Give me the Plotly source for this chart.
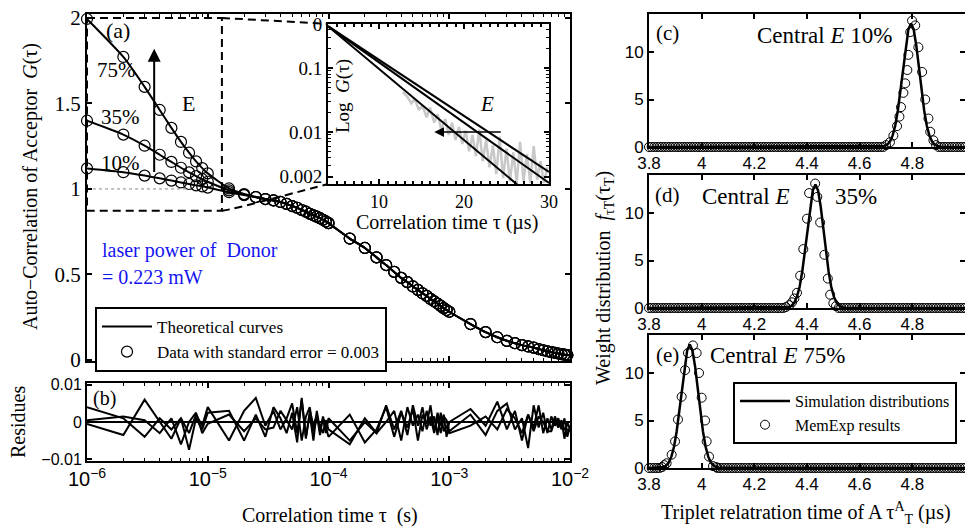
import numpy as np
import plotly.graph_objects as go

W, H = 965, 531
SERIF = "Liberation Serif"
SANS = "Liberation Sans"

# ---------------- panel (a): auto-correlation data ----------------
tau_us = [1, 2, 3, 4, 5, 6, 7, 8, 9,
          10, 15, 20, 25, 30, 35, 40, 45, 50, 55, 60, 65, 70, 75, 80, 85, 90, 95,
          100, 150, 200, 250, 300, 350, 400, 450, 500, 550, 600, 650, 700, 750, 800, 850, 900, 950,
          1000, 1500, 2000, 2500, 3000, 3500, 4000, 4500, 5000, 5500, 6000, 6500, 7000, 7500, 8000, 8500, 9000, 9500,
          10000]
G10_early = [1.120, 1.098, 1.078, 1.062, 1.049, 1.038, 1.029, 1.021, 1.015, 1.008, 0.981, 0.964, 0.952]
G35_early = [1.399, 1.318, 1.253, 1.200, 1.158, 1.124, 1.097, 1.075, 1.057, 1.042, 0.992, 0.967, 0.953]
G75_early = [1.994, 1.772, 1.597, 1.462, 1.357, 1.275, 1.212, 1.161, 1.122, 1.091, 1.003, 0.970, 0.953]
G_tail = [0.941, 0.933, 0.924, 0.913, 0.900, 0.890, 0.877, 0.867, 0.855, 0.846, 0.838, 0.829, 0.820, 0.810,
          0.800, 0.710, 0.655, 0.600, 0.555, 0.515, 0.480, 0.455, 0.430, 0.410, 0.390, 0.375, 0.357, 0.343, 0.330, 0.316, 0.303, 0.292,
          0.282, 0.210, 0.163, 0.133, 0.112, 0.098, 0.087, 0.079, 0.072, 0.064, 0.057, 0.051, 0.046, 0.042, 0.038, 0.034, 0.031, 0.029,
          0.027]

# ---------------- panel (b): residues ----------------
res1 = [0.0040, 0.0010, -0.0040, 0.0010, -0.0020, 0.0010, -0.0030, 0.0020, -0.0010,
        0.0040, -0.0050, 0.0030, 0.0065, -0.0010, 0.0030, -0.0020, 0.0010, 0.0050, -0.0030, 0.0060, -0.0040, 0.0020, -0.0050, 0.0030, -0.0020, 0.0010, -0.0030,
        0.0010, -0.0050, 0.0000, -0.0030, 0.0045, -0.0020, 0.0030, -0.0035, 0.0045, -0.0010, 0.0040, -0.0020, 0.0015, -0.0030, 0.0025, -0.0010, 0.0020, -0.0040,
        0.0000, 0.0035, -0.0010, 0.0055, -0.0020, 0.0030, -0.0050, 0.0020, -0.0015, 0.0045, -0.0030, 0.0010, -0.0020, 0.0015, -0.0010, 0.0005, -0.0045, 0.0000,
        -0.0020]
res2 = [-0.0005, -0.0035, 0.0060, 0.0000, -0.0045, 0.0010, -0.0075, 0.0010, -0.0020,
        0.0025, 0.0030, -0.0050, 0.0020, -0.0040, 0.0040, 0.0010, -0.0030, 0.0025, -0.0055, 0.0065, -0.0045, 0.0030, -0.0010, 0.0020, -0.0035, 0.0015, -0.0010,
        -0.0040, 0.0020, -0.0055, -0.0020, 0.0040, -0.0040, 0.0025, -0.0015, 0.0035, -0.0050, 0.0020, -0.0005, 0.0045, -0.0025, 0.0010, -0.0030, 0.0015, 0.0005,
        -0.0025, 0.0020, -0.0035, 0.0030, 0.0050, -0.0020, 0.0010, -0.0070, 0.0045, -0.0015, 0.0025, -0.0030, 0.0015, -0.0010, 0.0010, -0.0020, 0.0010, -0.0040,
        -0.0010]
res3 = [0.0005, 0.0015, 0.0005, -0.0030, 0.0010, -0.0060, 0.0000, 0.0025, -0.0030,
        -0.0005, 0.0020, -0.0025, 0.0010, -0.0020, -0.0015, 0.0030, 0.0005, -0.0020, 0.0040, -0.0050, 0.0015, 0.0040, -0.0025, 0.0010, -0.0010, -0.0030, 0.0005,
        -0.0020, -0.0060, 0.0010, -0.0030, 0.0000, 0.0030, -0.0050, 0.0040, -0.0010, 0.0020, -0.0025, 0.0030, -0.0010, 0.0015, -0.0035, 0.0025, -0.0025, -0.0010,
        -0.0030, -0.0010, 0.0015, -0.0020, 0.0035, 0.0010, -0.0030, 0.0020, -0.0025, 0.0015, 0.0000, -0.0025, -0.0025, 0.0005, -0.0015, 0.0000, -0.0020, -0.0020,
        -0.0025]

# ---------------- inset: log G(tau) ----------------
inset_t = [4, 30]
inset_lines = [[0.45, 0.00058], [0.45, 0.0016], [0.45, 0.00237]]
noise_t = [12.8, 13.3, 13.8, 14.2, 14.7, 15.1, 15.6, 16.0, 16.5, 16.9, 17.3, 17.8, 18.2, 18.6, 19.0, 19.4,
           19.8, 20.2, 20.6, 21.0, 21.4, 21.8, 22.2, 22.6, 23.0, 23.4, 23.8, 24.2, 24.6, 25.0, 25.4, 25.8,
           26.2, 26.6, 27.0, 27.4, 27.8, 28.2, 28.6, 29.0, 29.4, 29.8]
noise_G = [0.042, 0.036, 0.028, 0.033, 0.022, 0.026, 0.017, 0.024, 0.014, 0.019, 0.011, 0.016, 0.009, 0.014, 0.0075, 0.012,
           0.0065, 0.0105, 0.005, 0.009, 0.0042, 0.011, 0.0035, 0.0075, 0.0028, 0.0062, 0.0022, 0.0085, 0.0019, 0.0055, 0.0017, 0.0048,
           0.0016, 0.007, 0.0017, 0.0045, 0.0016, 0.006, 0.0018, 0.0035, 0.0016, 0.0028]

# ---------------- panels (c)-(e): distributions ----------------
sim_offsets = [-0.11, -0.10, -0.09, -0.08, -0.07, -0.06, -0.05, -0.04, -0.03, -0.02, -0.01, 0.0,
               0.01, 0.02, 0.03, 0.04, 0.05, 0.06, 0.07, 0.08, 0.09, 0.10, 0.11]
sim_profile = [0.035, 0.10, 0.25, 0.57, 1.19, 2.24, 3.84, 5.95, 8.38, 10.69, 12.38, 13.0,
               12.38, 10.69, 8.38, 5.95, 3.84, 2.24, 1.19, 0.57, 0.25, 0.10, 0.035]
sim_centers = [4.795, 4.432, 3.955]
pk_x = [[4.700, 4.715, 4.728, 4.742, 4.751, 4.757, 4.766, 4.773, 4.781, 4.785, 4.792, 4.799, 4.811, 4.823, 4.837, 4.849, 4.861, 4.868, 4.880, 4.890],
        [4.320, 4.333, 4.343, 4.352, 4.362, 4.374, 4.386, 4.400, 4.408, 4.431, 4.439, 4.450, 4.466, 4.479, 4.488, 4.500, 4.510],
        [3.850, 3.858, 3.867, 3.886, 3.899, 3.910, 3.924, 3.937, 3.948, 3.967, 3.981, 3.990, 4.000, 4.013, 4.019, 4.028, 4.043, 4.055]]
pk_y = [[0.2, 0.5, 1.2, 2.2, 3.2, 4.2, 5.7, 6.7, 8.1, 9.7, 12.1, 13.3, 12.8, 10.5, 7.9, 5.0, 3.0, 1.6, 0.7, 0.2],
        [0.1, 0.3, 0.6, 1.0, 1.6, 3.4, 6.2, 9.4, 12.1, 13.1, 11.7, 9.0, 5.6, 3.1, 1.4, 0.5, 0.2],
        [0.1, 0.3, 0.5, 1.4, 2.8, 5.1, 7.5, 10.3, 12.1, 12.9, 12.1, 10.0, 7.4, 5.0, 2.8, 1.2, 0.2, 0.1]]
tauT_grid = np.round(np.arange(3.80, 5.0001, 0.01), 2)

assert len(tau_us) == 64 and len(res1) == 64 and len(res2) == 64 and len(res3) == 64
assert len(G10_early) + len(G_tail) == 64

tau_s = [t * 1e-6 for t in tau_us]
curves = [G10_early + G_tail, G35_early + G_tail, G75_early + G_tail]

fig = go.Figure()

# main curves
for i, g in enumerate(curves):
    fig.add_trace(go.Scatter(x=tau_s, y=g, mode="lines", line=dict(color="black", width=2, shape="spline", smoothing=0.6),
                             xaxis="x", yaxis="y", name="Theoretical curves", showlegend=(i == 0), legend="legend", legendrank=1))
for i, g in enumerate(curves):
    fig.add_trace(go.Scatter(x=tau_s, y=g, mode="markers", cliponaxis=False,
                             marker=dict(symbol="circle-open", size=11, color="black", line=dict(width=1.2, color="black")),
                             xaxis="x", yaxis="y", name="Data with standard error = 0.003", showlegend=(i == 0), legend="legend", legendrank=2))

# dotted reference level and dashed zoom box with connectors
fig.add_trace(go.Scatter(x=[1e-6, 7e-6], y=[1, 1], mode="lines", line=dict(color="#888", width=1, dash="dot"),
                         xaxis="x", yaxis="y", showlegend=False, hoverinfo="skip"))
box_x = [1e-6, 1.31e-5, 1.31e-5, 1e-6, 1e-6]
box_y = [2.0, 2.0, 0.872, 0.872, 2.0]
fig.add_trace(go.Scatter(x=box_x, y=box_y, mode="lines", line=dict(color="black", width=2, dash="8px,5px"),
                         xaxis="x", yaxis="y", showlegend=False, hoverinfo="skip"))
fig.add_trace(go.Scatter(x=[1.31e-5, 9.9e-5], y=[2.0, 1.965], mode="lines", line=dict(color="black", width=2, dash="8px,5px"),
                         xaxis="x", yaxis="y", showlegend=False, hoverinfo="skip"))
fig.add_trace(go.Scatter(x=[1.31e-5, 1.6e-5, 9.9e-5], y=[0.872, 0.884, 1.029], mode="lines",
                         line=dict(color="black", width=2, dash="8px,5px", shape="spline"),
                         xaxis="x", yaxis="y", showlegend=False, hoverinfo="skip"))

# inset
fig.add_trace(go.Scatter(x=noise_t, y=noise_G, mode="lines", line=dict(color="#c8c8c8", width=2.5),
                         xaxis="x2", yaxis="y2", showlegend=False, hoverinfo="skip"))
for ln in inset_lines:
    fig.add_trace(go.Scatter(x=inset_t, y=ln, mode="lines", line=dict(color="black", width=2),
                             xaxis="x2", yaxis="y2", showlegend=False))

# residues
for r in (res1, res2, res3):
    fig.add_trace(go.Scatter(x=tau_s, y=r, mode="lines", line=dict(color="black", width=2),
                             xaxis="x3", yaxis="y3", showlegend=False))
fig.add_trace(go.Scatter(x=[1e-6, 1e-2], y=[0, 0], mode="lines", line=dict(color="black", width=2),
                         xaxis="x3", yaxis="y3", showlegend=False))

# distributions
for k in range(3):
    xa, ya = "x%d" % (k + 4), "y%d" % (k + 4)
    lo, hi = min(pk_x[k]) - 0.004, max(pk_x[k]) + 0.004
    base = [v for v in tauT_grid if v < lo or v > hi]
    fig.add_trace(go.Scatter(x=base, y=[0.0] * len(base), mode="markers", cliponaxis=False,
                             marker=dict(symbol="circle-open", size=9, color="black", line=dict(width=1)),
                             xaxis=xa, yaxis=ya, showlegend=False))
    fig.add_trace(go.Scatter(x=pk_x[k], y=pk_y[k], mode="markers", cliponaxis=False,
                             marker=dict(symbol="circle-open", size=9, color="black", line=dict(width=1)),
                             xaxis=xa, yaxis=ya, name="MemExp results", showlegend=(k == 2), legend="legend2", legendrank=2))
    sx = [3.8] + [sim_centers[k] + o for o in sim_offsets] + [5.0]
    sy = [0.0] + sim_profile + [0.0]
    fig.add_trace(go.Scatter(x=sx, y=sy, mode="lines", line=dict(color="black", width=2.5),
                             xaxis=xa, yaxis=ya, name="Simulation distributions", showlegend=(k == 2), legend="legend2", legendrank=1))


def px(x):
    return x / W


def py(y):
    return 1 - y / H


def axstyle(**kw):
    d = dict(showline=True, linecolor="black", linewidth=2, mirror="ticks", ticks="inside", tickcolor="black",
             tickwidth=1.5, ticklen=5, showgrid=False, zeroline=False, color="black", automargin=False)
    d.update(kw)
    return d


minor_log = dict(ticks="inside", ticklen=3, tickcolor="black", tickwidth=1, dtick="D1", showgrid=False)

layout = dict(
    width=W, height=H, margin=dict(l=0, r=0, t=0, b=0, autoexpand=False),
    paper_bgcolor="white", plot_bgcolor="white", showlegend=True,
    font=dict(family=SERIF, color="black"),
    xaxis=axstyle(domain=[px(87), px(570)], type="log", range=[-6, -2], anchor="y", dtick=1,
                  showticklabels=False, minor=minor_log),
    yaxis=axstyle(domain=[py(361), py(14)], range=[-0.006, 2.023], anchor="x",
                  tickvals=[0, 0.5, 1, 1.5, 2], ticktext=["0", "0.5", "1", "1.5", "2"],
                  tickfont=dict(family=SERIF, size=21)),
    xaxis2=axstyle(domain=[px(328), px(549)], range=[4, 30], anchor="y2", tickvals=[10, 20, 30],
                   ticktext=["10", "20", "30"], tickfont=dict(family=SERIF, size=18),
                   minor=dict(ticks="inside", ticklen=3, tickcolor="black", dtick=1, showgrid=False)),
    yaxis2=axstyle(domain=[py(184), py(24)], type="log", range=[-2.8125, -0.3125], anchor="x2",
                   tickvals=[0.002, 0.01, 0.1, 0.487], ticktext=["0.002", "0.01", "0.1", "0"],
                   tickfont=dict(family=SERIF, size=19), minor=minor_log),
    xaxis3=axstyle(domain=[px(87), px(570)], type="log", range=[-6, -2], anchor="y3", dtick=1,
                   exponentformat="power", showexponent="all", tickfont=dict(family=SANS, size=16), minor=minor_log),
    yaxis3=axstyle(domain=[py(461), py(383)], range=[-0.0105, 0.0105], anchor="x3",
                   tickvals=[-0.01, 0, 0.01], ticktext=["\u22120.01", "0", "0.01"], tickfont=dict(family=SANS, size=16)),
    legend=dict(x=px(95), y=py(307), xanchor="left", yanchor="top", bgcolor="white", bordercolor="black",
                borderwidth=2, font=dict(family=SERIF, size=17), itemwidth=50, tracegroupgap=0),
    legend2=dict(x=px(733), y=py(382), xanchor="left", yanchor="top", bgcolor="white", bordercolor="black",
                 borderwidth=2, font=dict(family=SERIF, size=16), itemwidth=50, tracegroupgap=0),
)
right_y = [(147, 14), (308, 175), (468, 335)]
for k in range(3):
    b, t = right_y[k]
    layout["xaxis%d" % (k + 4)] = axstyle(domain=[px(649), 1.0], range=[3.8, 5.0], anchor="y%d" % (k + 4),
                                          tickvals=[3.8, 4.0, 4.2, 4.4, 4.6, 4.8],
                                          ticktext=["3.8", "4", "4.2", "4.4", "4.6", "4.8"],
                                          tickfont=dict(family=SANS, size=17))
    layout["yaxis%d" % (k + 4)] = axstyle(domain=[py(b), py(t)], range=[0, 14], anchor="x%d" % (k + 4),
                                          tickvals=[0, 5, 10], ticktext=["0", "5", "10"],
                                          tickfont=dict(family=SANS, size=17))
fig.update_layout(**layout)

ann = []


def txt(x, y, s, size=20, angle=0, anchor="center", color="black", family=SERIF):
    ann.append(dict(x=px(x), y=py(y), xref="paper", yref="paper", text=s, showarrow=False, textangle=angle,
                    xanchor=anchor, yanchor="middle", font=dict(family=family, size=size, color=color)))


txt(118, 31, "(a)", 22)
txt(116, 70, "75%", 21)
txt(120, 117, "35%", 21)
txt(120, 163, "10%", 21)
txt(188, 103, "E", 22)
txt(487, 104, "<i>E</i>", 21)
txt(343, 96, "Log  <i>G</i>(τ)", 19, angle=-90)
txt(447, 223, "Correlation time τ (µs)", 20)
txt(100, 250, "laser power of  Donor", 20, anchor="left", color="#1414f0")
txt(100, 277, "= 0.223 mW", 20, anchor="left", color="#1414f0")
txt(104, 398, "(b)", 20)
txt(30, 187, "Auto\u2212Correlation of Acceptor  <i>G</i>(τ)", 20, angle=-90)
txt(18, 422, "Residues", 20, angle=-90)
txt(330, 515, "Correlation time τ  (s)", 20)
txt(667, 33, "(c)", 21)
txt(824, 35, "Central <i>E</i> 10%", 23)
txt(667, 195, "(d)", 21)
txt(746, 196, "Central <i>E</i>", 23)
txt(856, 196, "35%", 23)
txt(667, 355, "(e)", 21)
txt(777, 355, "Central <i>E</i> 75%", 23)
txt(604, 278, "Weight distribution  <i>f</i><sub>τT</sub>(τ<sub>T</sub>)", 20, angle=-90)
txt(806, 513, "Triplet relatration time of A τ<sup>A</sup><sub>T</sub> (µs)", 20)

arrow_tau = 3.6e-6
ann.append(dict(x=np.log10(arrow_tau), y=1.82, ax=np.log10(arrow_tau), ay=1.09, xref="x", yref="y", axref="x", ayref="y",
                text="", showarrow=True, arrowhead=2, arrowsize=1.3, arrowwidth=2, arrowcolor="black", standoff=0))
ann.append(dict(x=16.5, y=-2, ax=24.5, ay=-2, xref="x2", yref="y2", axref="x2", ayref="y2",
                text="", showarrow=True, arrowhead=2, arrowsize=1.3, arrowwidth=1.5, arrowcolor="black", standoff=0))
fig.update_layout(annotations=ann)

fig.write_html("out.html", config={"displayModeBar": False},
               post_script="document.body.style.margin='0px';document.body.style.padding='0px';")
